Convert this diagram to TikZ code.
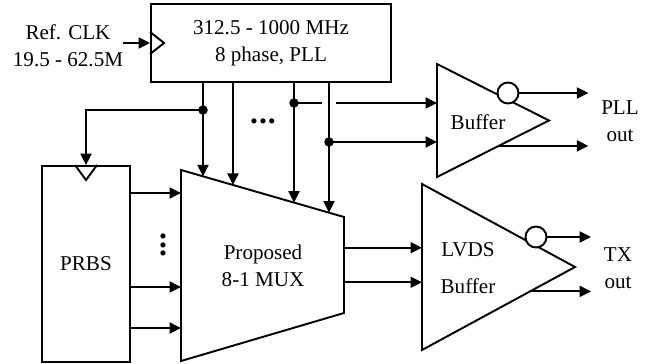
\documentclass[tikz,border=0pt]{standalone}
\usepackage{fontspec}
\setmainfont{Liberation Serif}
\usetikzlibrary{arrows.meta, positioning, calc}
\definecolor{inkline}{HTML}{000000}
\newcommand{\buftri}[5]{%
  \draw[wire] (#2,#3-#4) coordinate (#1-nw) -- (#2+#5,#3) coordinate (#1-tip)
    -- (#2,#3+#4) coordinate (#1-sw) -- cycle;}

\begin{document}
\begin{tikzpicture}[x=0.02cm, y=-0.02cm,
    font=\fontsize{12}{15.4}\selectfont,
    wire/.style={draw=inkline, line width=1.1pt},
    arr/.style={wire, -{Triangle[length=2.3mm, width=2.2mm]}},
    blockbox/.style={draw=inkline, line width=1.1pt, align=center},
    bubble/.style={circle, draw=inkline, line width=1.1pt, fill=white,
                   minimum size=0.42cm, inner sep=0pt},
    jdot/.style={circle, fill=inkline, minimum size=0.19cm, inner sep=0pt},
    dotsmark/.style={font=\fontsize{18}{4.7}\selectfont\bfseries, align=center, inner sep=1pt},
    outlabel/.style={align=center, outer sep=4pt}]
  \useasboundingbox (0,0) rectangle (665,364);

  \node[blockbox, minimum width=4.8cm, minimum height=1.56cm] (pll) at (271,43)
    {312.5 - 1000 MHz\\8 phase, PLL};
  \draw[wire] ($(pll.west)+(0,-11)$) -- ++(14,11) -- ++(-14,11);
  \node[align=center, inner sep=0pt] (refclk) at (68,46) {Ref. CLK\\19.5 - 62.5M};
  \draw[arr] (refclk.east |- pll.west) -- (pll.west);

  \draw[wire] (181,170) coordinate (mux-nw) -- (344,217) coordinate (mux-ne)
    -- (344,313) coordinate (mux-se) -- (181,361) coordinate (mux-sw) -- cycle;
  \node[align=center] (mux) at (263,266) {Proposed\\8-1 MUX};

  \node[blockbox, minimum width=1.76cm, minimum height=3.92cm] (prbs) at (86,264) {PRBS};
  \draw[wire] ($(prbs.north)+(-11,0)$) -- ++(11,15) -- ++(11,-15);
  \foreach \y in {193,287,328}
    \draw[arr] (prbs.east |- 0,\y) -- (mux-nw |- 0,\y);
  \node[dotsmark] (vdots) at (163,245) {.\\.\\.};

  \foreach \x [count=\i] in {203,233,294,329}
    \coordinate (tap\i) at ($(mux-nw)!{(\x-181)/163}!(mux-ne)$);
  \coordinate (j1) at (tap1 |- 0,110);
  \coordinate (j2) at (tap3 |- 0,103);
  \coordinate (j3) at (tap4 |- 0,142);

  \buftri{pllb}{437}{120.5}{56.5}{112}
  \node (pllbtxt) at (478,122) {Buffer};
  \draw[arr] (j2) -- (j2 -| pllb-nw);
  \draw[white, line width=3pt] ($(tap4 |- j2)+(-7,0)$) -- ++(14,0);
  \draw[arr] (j3) -- (j3 -| pllb-nw);
  \draw[arr] (j1) -| (prbs.north);
  \foreach \i in {1,...,4}
    \draw[arr] (pll.south -| tap\i) -- (tap\i);
  \foreach \j in {j1,j2,j3}
    \node[jdot] (\j dot) at (\j) {};
  \node[dotsmark] (hdots) at (263,121) {.\kern0.6pt.\kern0.6pt.};

  \node[bubble] (pllbub) at (508,93) {};
  \node[outlabel] (pllout) at (620,121) {PLL\\out};
  \coordinate (pllb-lo) at ($(pllb-sw)!0.55!(pllb-tip)$);
  \draw[arr] (pllbub.east) -- (pllbub.east -| pllout.west);
  \draw[arr] (pllb-lo) -- (pllb-lo -| pllout.west);

  \buftri{lvds}{422}{267}{83}{153}
  \node[align=center] (lvdstxt) at (468,268) {LVDS\\[6pt]Buffer};
  \node[bubble] (lvdsbub) at (536,237) {};
  \node[outlabel] (txout) at (618,268) {TX\\out};
  \coordinate (lvds-lo) at ($(lvds-sw)!0.706!(lvds-tip)$);
  \draw[arr] (lvdsbub.east) -- (lvdsbub.east -| txout.west);
  \draw[arr] (lvds-lo) -- (lvds-lo -| txout.west);

  \coordinate (mux-o1) at ($(mux-ne)!0.32!(mux-se)$);
  \coordinate (mux-o2) at ($(mux-ne)!0.68!(mux-se)$);
  \draw[arr] (mux-o1) -- (mux-o1 -| lvds-nw);
  \draw[arr] (mux-o2) -- (mux-o2 -| lvds-nw);
\end{tikzpicture}
\end{document}
